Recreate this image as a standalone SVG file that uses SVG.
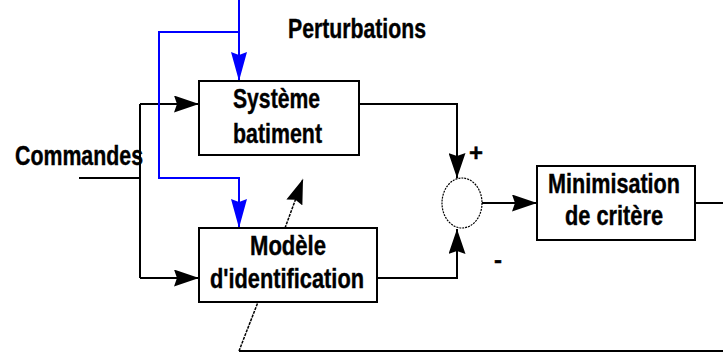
<svg xmlns="http://www.w3.org/2000/svg" width="723" height="353" viewBox="0 0 723 353">
<style>
.box{fill:#fff;stroke:#000;stroke-width:2}
.ln{fill:none;stroke:#000;stroke-width:2}
.bl{fill:none;stroke:#0000ff;stroke-width:2}
.dt{fill:none;stroke:#000;stroke-width:1.5;stroke-dasharray:3,1}
.t{font-family:'Liberation Sans Narrow','Liberation Sans',Arial,sans-serif;font-weight:bold;font-size:27px;fill:#000;stroke:#000;stroke-width:0.4}
</style>
<defs>
<marker id="ab" viewBox="0 0 25 17" refX="25" refY="8.5" markerWidth="25" markerHeight="17" markerUnits="userSpaceOnUse" orient="auto">
<path d="M0,0 L25,8.5 L0,17 L3,8.5 Z" fill="#000"/>
</marker>
<marker id="au" viewBox="0 0 29 16" refX="29" refY="8" markerWidth="29" markerHeight="16" markerUnits="userSpaceOnUse" orient="auto">
<path d="M0,0 L29,8 L0,16 L3,8 Z" fill="#0000ff"/>
</marker>
</defs>
<g id="connectors">
<path class="ln" d="M79,178 H140"/>
<path class="ln" d="M140,104 V278"/>
<path class="ln" d="M140,104 H199" marker-end="url(#ab)"/>
<path class="ln" d="M140,278 H199" marker-end="url(#ab)"/>
<path class="bl" d="M239,0 V81" marker-end="url(#au)"/>
<path class="bl" d="M239,32 H159 V178 H239 V228" marker-end="url(#au)"/>
<path class="ln" d="M359,104 H457 V178" marker-end="url(#ab)"/>
<path class="ln" d="M377,278 H457 V229" marker-end="url(#ab)"/>
<path class="ln" d="M482,203 H537" marker-end="url(#ab)"/>
<path class="ln" d="M695,203 H723"/>
<path class="ln" d="M723,351 H239"/>
<path class="dt" d="M239,351 L258,302"/>
<path class="dt" d="M285,228 L303,179" marker-end="url(#ab)"/>
</g>
<g id="perturbations"><text class="t" x="288" y="38" textLength="138" lengthAdjust="spacingAndGlyphs">Perturbations</text></g>
<g id="commandes"><text class="t" x="15" y="165" textLength="128" lengthAdjust="spacingAndGlyphs">Commandes</text></g>
<g id="systeme">
<rect class="box" x="199" y="81" width="160" height="74"/>
<text class="t" x="233" y="108" textLength="87" lengthAdjust="spacingAndGlyphs">Système</text>
<text class="t" x="233" y="143" textLength="89" lengthAdjust="spacingAndGlyphs">batiment</text>
</g>
<g id="modele">
<rect class="box" x="199" y="228" width="178" height="74"/>
<text class="t" x="250" y="255" textLength="76" lengthAdjust="spacingAndGlyphs">Modèle</text>
<text class="t" x="210" y="288" textLength="154" lengthAdjust="spacingAndGlyphs">d'identification</text>
</g>
<g id="comparateur">
<ellipse cx="462" cy="203" rx="20" ry="25" fill="#fff" stroke="#000" stroke-width="1.2" stroke-dasharray="2,1"/>
<text class="t" x="469" y="161" style="font-size:24px">+</text>
<text class="t" x="494" y="268" style="font-size:24px">-</text>
</g>
<g id="minimisation">
<rect class="box" x="537" y="166" width="158" height="74"/>
<text class="t" x="548" y="193" textLength="132" lengthAdjust="spacingAndGlyphs">Minimisation</text>
<text class="t" x="565" y="225" textLength="98" lengthAdjust="spacingAndGlyphs">de critère</text>
</g>
</svg>
